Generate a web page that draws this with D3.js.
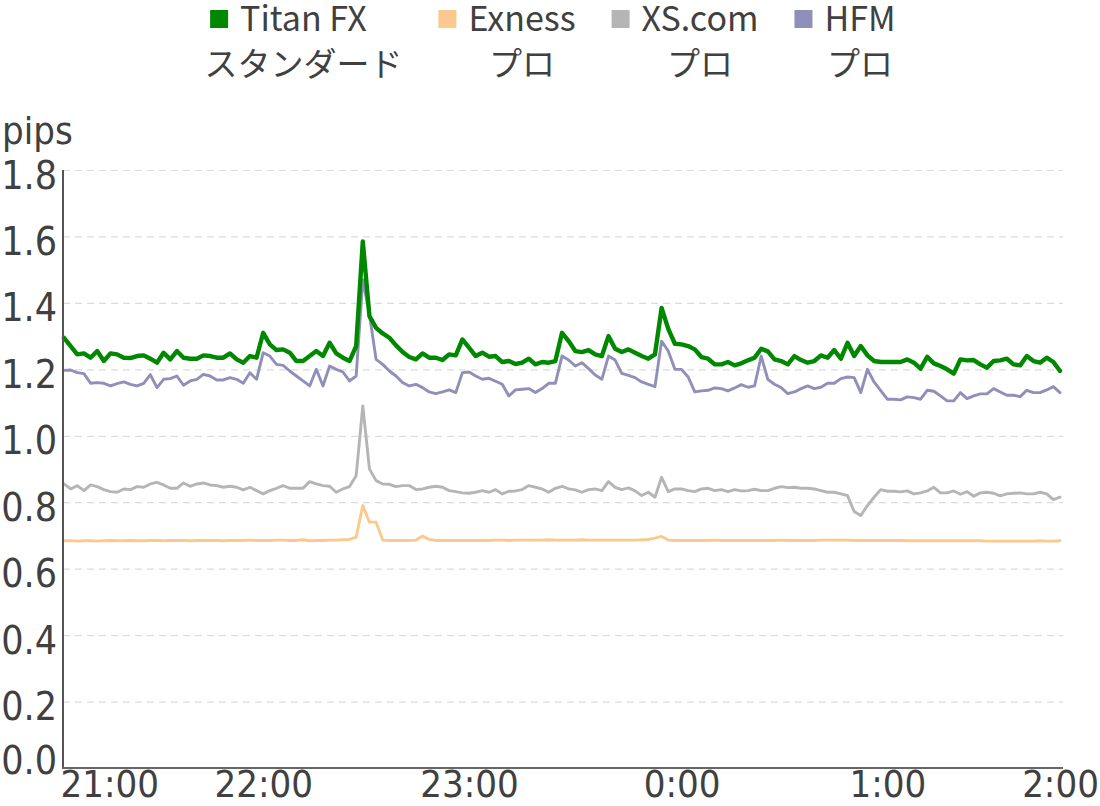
<!DOCTYPE html>
<html>
<head>
<meta charset="utf-8">
<script src="https://cdn.jsdelivr.net/npm/d3@7/dist/d3.min.js"></script>
<style>
  html, body { margin: 0; padding: 0; background: #fff; }
  svg { display: block; }
</style>
</head>
<body>
<svg id="chart" width="1100" height="806"></svg>
<script>
// ---------- data ----------
const seriesNames = ["Titan FX", "Exness", "XS.com", "HFM"];
const seriesSub   = ["スタンダード", "プロ", "プロ", "プロ"];
const seriesColors = ["#008800", "#fbc98e", "#b5b5b5", "#8f8fba"];

const titan = [
  1.295,1.27,1.245,1.248,1.235,1.255,1.225,1.248,1.245,1.235,
  1.234,1.24,1.242,1.232,1.22,1.25,1.23,1.255,1.235,1.232,
  1.232,1.242,1.24,1.235,1.235,1.248,1.23,1.22,1.24,1.235,
  1.31,1.275,1.258,1.26,1.25,1.225,1.225,1.24,1.255,1.24,
  1.28,1.248,1.235,1.225,1.27,1.585,1.36,1.325,1.308,1.295,
  1.272,1.252,1.237,1.23,1.248,1.235,1.235,1.228,1.245,1.242,
  1.29,1.265,1.24,1.25,1.238,1.24,1.222,1.225,1.216,1.22,
  1.232,1.215,1.222,1.22,1.225,1.31,1.285,1.255,1.252,1.258,
  1.245,1.24,1.30,1.262,1.252,1.26,1.25,1.24,1.232,1.245,
  1.385,1.322,1.277,1.275,1.27,1.26,1.237,1.232,1.215,1.215,
  1.222,1.212,1.218,1.227,1.235,1.262,1.254,1.23,1.225,1.215,
  1.24,1.228,1.22,1.225,1.242,1.235,1.258,1.232,1.28,1.24,
  1.27,1.242,1.225,1.222,1.222,1.222,1.222,1.23,1.22,1.202,
  1.238,1.218,1.21,1.20,1.187,1.23,1.227,1.228,1.215,1.205,
  1.225,1.227,1.232,1.215,1.212,1.24,1.225,1.22,1.235,1.222,
  1.195
];
const exness = [
  0.684,0.684,0.683,0.684,0.684,0.683,0.684,0.685,0.684,0.684,
  0.685,0.684,0.684,0.685,0.685,0.684,0.685,0.685,0.685,0.684,
  0.685,0.685,0.685,0.685,0.684,0.685,0.685,0.685,0.686,0.685,
  0.685,0.685,0.686,0.686,0.685,0.685,0.687,0.684,0.685,0.685,
  0.686,0.686,0.687,0.688,0.695,0.79,0.74,0.74,0.686,0.685,
  0.685,0.685,0.685,0.686,0.698,0.688,0.685,0.685,0.685,0.685,
  0.685,0.685,0.685,0.685,0.685,0.686,0.686,0.685,0.686,0.686,
  0.686,0.686,0.686,0.687,0.686,0.686,0.686,0.686,0.687,0.686,
  0.686,0.686,0.686,0.686,0.686,0.686,0.686,0.687,0.688,0.692,
  0.697,0.686,0.685,0.685,0.685,0.685,0.685,0.685,0.686,0.685,
  0.685,0.685,0.685,0.685,0.685,0.685,0.685,0.685,0.686,0.685,
  0.685,0.685,0.685,0.685,0.686,0.686,0.686,0.686,0.686,0.685,
  0.685,0.685,0.685,0.685,0.685,0.685,0.685,0.684,0.684,0.684,
  0.684,0.684,0.684,0.684,0.684,0.684,0.684,0.684,0.684,0.683,
  0.683,0.683,0.683,0.683,0.683,0.683,0.683,0.684,0.683,0.683,
  0.684
];
const xscom = [
  0.855,0.84,0.85,0.835,0.852,0.847,0.838,0.832,0.83,0.84,
  0.838,0.847,0.845,0.855,0.86,0.852,0.842,0.842,0.858,0.848,
  0.855,0.858,0.852,0.85,0.845,0.848,0.845,0.837,0.845,0.835,
  0.825,0.835,0.842,0.85,0.842,0.842,0.842,0.862,0.855,0.85,
  0.848,0.83,0.84,0.847,0.88,1.09,0.90,0.865,0.855,0.854,
  0.847,0.85,0.85,0.838,0.84,0.845,0.848,0.845,0.835,0.832,
  0.828,0.827,0.83,0.835,0.83,0.838,0.825,0.833,0.834,0.838,
  0.85,0.845,0.84,0.83,0.842,0.848,0.84,0.837,0.83,0.838,
  0.84,0.835,0.862,0.845,0.838,0.843,0.834,0.82,0.83,0.815,
  0.875,0.832,0.84,0.84,0.835,0.832,0.84,0.842,0.835,0.838,
  0.832,0.838,0.834,0.835,0.839,0.835,0.835,0.842,0.847,0.844,
  0.845,0.842,0.842,0.84,0.835,0.83,0.83,0.825,0.82,0.772,
  0.76,0.79,0.815,0.838,0.833,0.833,0.831,0.834,0.825,0.828,
  0.834,0.845,0.828,0.828,0.834,0.824,0.832,0.818,0.828,0.83,
  0.827,0.819,0.825,0.827,0.828,0.825,0.825,0.83,0.825,0.808,
  0.815
];
const hfm = [
  1.197,1.198,1.19,1.187,1.158,1.16,1.158,1.15,1.157,1.162,
  1.155,1.15,1.158,1.184,1.145,1.17,1.172,1.18,1.152,1.165,
  1.17,1.185,1.18,1.168,1.168,1.175,1.17,1.158,1.19,1.17,
  1.25,1.24,1.215,1.212,1.195,1.18,1.165,1.15,1.20,1.15,
  1.21,1.20,1.192,1.165,1.18,1.47,1.365,1.23,1.215,1.195,
  1.18,1.16,1.15,1.155,1.145,1.132,1.127,1.132,1.138,1.13,
  1.19,1.192,1.18,1.17,1.173,1.164,1.155,1.12,1.138,1.14,
  1.142,1.13,1.142,1.158,1.158,1.24,1.228,1.21,1.22,1.202,
  1.183,1.17,1.24,1.228,1.188,1.182,1.175,1.162,1.155,1.148,
  1.285,1.255,1.20,1.20,1.177,1.132,1.135,1.137,1.144,1.142,
  1.135,1.144,1.154,1.146,1.15,1.24,1.17,1.155,1.145,1.127,
  1.132,1.142,1.15,1.142,1.146,1.158,1.158,1.172,1.177,1.175,
  1.13,1.20,1.162,1.136,1.11,1.11,1.108,1.117,1.115,1.11,
  1.137,1.134,1.12,1.105,1.105,1.13,1.112,1.12,1.126,1.126,
  1.142,1.132,1.122,1.122,1.118,1.137,1.13,1.13,1.138,1.148,
  1.13
];
const xTickIndex  = [0, 30, 61, 93, 124, 150];
const xTickLabels = ["21:00", "22:00", "23:00", "0:00", "1:00", "2:00"];
const yTicks = [0, 0.2, 0.4, 0.6, 0.8, 1.0, 1.2, 1.4, 1.6, 1.8];
const yUnit = "pips";

// ---------- layout ----------
const svg = d3.select("#chart");
const W = 1100, H = 806;
const plot = { left: 63, right: 1063, top: 170, bottom: 768 };
const axisFont = "'DejaVu Sans', sans-serif";
const SX = 0.9; // horizontal condensing of axis text
const textColor = "#404040";

const allSeries = [titan, exness, xscom, hfm];
const n = titan.length;

const x = d3.scaleLinear().domain([0, n - 1]).range([64, 1060]);
const y = d3.scaleLinear().domain([0, 1.8]).range([plot.bottom, plot.top]);

svg.append("rect").attr("width", W).attr("height", H).attr("fill", "#fff");

// grid
const grid = svg.append("g")
  .attr("transform", `translate(${plot.left},0)`)
  .call(d3.axisLeft(y).tickValues(yTicks.filter(v => v > 0))
        .tickSize(-(plot.right - plot.left)).tickFormat(""));
grid.select(".domain").remove();
grid.selectAll(".tick line")
  .attr("stroke", "#dcdcdc").attr("stroke-width", 1.2)
  .attr("stroke-dasharray", "7,5");

// y labels
const yAxis = svg.append("g")
  .attr("transform", `translate(57,0)`)
  .call(d3.axisLeft(y).tickValues(yTicks).tickSize(0).tickPadding(0)
        .tickFormat(d3.format(".1f")));
yAxis.select(".domain").remove();
yAxis.selectAll(".tick text")
  .attr("font-family", axisFont).attr("font-size", 39)
  .attr("fill", textColor).attr("text-anchor", "end")
  .attr("dy", null).attr("x", 0)
  .attr("y", function(d) {
    let c = y(d) + 4;
    c = Math.max(plot.top + 4, Math.min(plot.bottom - 9, c));
    return c - y(d) + 14;
  })
  .attr("transform", `scale(${SX},1)`);

// unit label
svg.append("g").attr("transform", `translate(2,144) scale(${SX},1)`)
  .append("text")
  .attr("font-family", axisFont).attr("font-size", 38)
  .attr("fill", textColor).text(yUnit);

// x labels
const xAxis = svg.append("g")
  .attr("transform", `translate(0,${plot.bottom})`)
  .call(d3.axisBottom(x).tickValues(xTickIndex).tickSize(0).tickPadding(0)
        .tickFormat((d, i) => xTickLabels[i]));
xAxis.select(".domain").remove();
xAxis.selectAll(".tick text")
  .attr("font-family", axisFont).attr("font-size", 38)
  .attr("fill", textColor).attr("dy", null).attr("y", 29)
  .attr("text-anchor", (d, i) => i === 0 ? "start" : "middle")
  .attr("x", (d, i) => (i === 0 ? -4 : 0) / SX)
  .attr("transform", `scale(${SX},1)`);

// lines (draw order: Exness, XS, HFM, Titan on top)
const line = d3.line().x((d, i) => x(i)).y(d => y(d));
const drawOrder = [1, 2, 3, 0];
const widths = [4.4, 2.9, 2.9, 2.9];
drawOrder.forEach(k => {
  svg.append("path").datum(allSeries[k])
    .attr("d", line).attr("fill", "none")
    .attr("stroke", seriesColors[k]).attr("stroke-width", widths[k])
    .attr("stroke-linejoin", "round").attr("stroke-linecap", "round");
});

// axis lines
svg.append("line").attr("x1", plot.left).attr("x2", plot.left)
  .attr("y1", plot.top).attr("y2", plot.bottom + 1)
  .attr("stroke", "#555").attr("stroke-width", 2);
svg.append("line").attr("x1", plot.left).attr("x2", plot.right)
  .attr("y1", plot.bottom).attr("y2", plot.bottom)
  .attr("stroke", "#666").attr("stroke-width", 2);

// legend
const legFont = "'Noto Sans CJK JP', 'Noto Sans', sans-serif";
const legSize = 33;
const lg = svg.append("g");
const items = seriesNames.map((name, k) => {
  const g = lg.append("g");
  const t1 = g.append("text").attr("font-family", legFont).attr("font-size", legSize + 1)
    .attr("fill", textColor).attr("text-anchor", "middle").attr("y", 31).text(name);
  const t2 = g.append("text").attr("font-family", legFont).attr("font-size", legSize)
    .attr("fill", textColor).attr("text-anchor", "middle").attr("y", 76).text(seriesSub[k]);
  const w1 = t1.node().getComputedTextLength();
  const w2 = t2.node().getComputedTextLength();
  g.append("rect").attr("width", 18).attr("height", 18)
    .attr("y", 10).attr("x", -w1 / 2 - 30).attr("fill", seriesColors[k]);
  const left = Math.min(-w1 / 2 - 30, -w2 / 2);
  const right = Math.max(w1 / 2, w2 / 2);
  return { g, left, right };
});
const gap = 36;
const total = items.reduce((s, it) => s + (it.right - it.left), 0) + gap * (items.length - 1);
let cursor = W / 2 - total / 2;
items.forEach(it => {
  const cx = cursor - it.left;
  it.g.attr("transform", `translate(${cx},0)`);
  cursor += (it.right - it.left) + gap;
});
</script>
</body>
</html>
